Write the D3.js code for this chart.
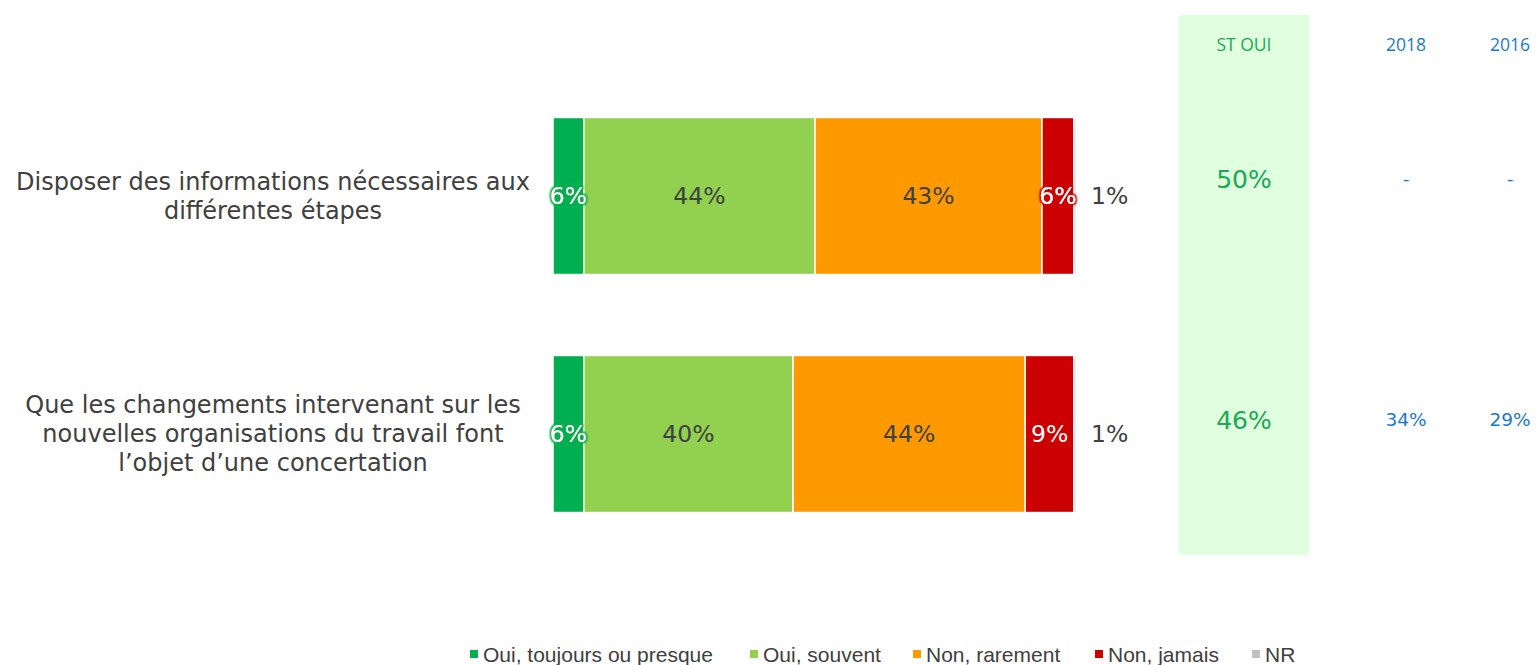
<!DOCTYPE html>
<html>
<head>
<meta charset="utf-8">
<script src="https://cdn.jsdelivr.net/npm/d3@7"></script>
<style>
  body { margin: 0; background: #fff; }
  svg text { font-family: "DejaVu Sans", Verdana, sans-serif; }
</style>
</head>
<body>
<svg id="chart"></svg>
<script>
// Categories and series (in %)
const categories = [
  "Disposer des informations nécessaires aux|différentes étapes",
  "Que les changements intervenant sur les|nouvelles organisations du travail font|l’objet d’une concertation"
];
const seriesNames = ["Oui, toujours ou presque", "Oui, souvent", "Non, rarement", "Non, jamais", "NR"];
const seriesColors = ["#00b050", "#92d050", "#ff9900", "#cc0000", "#c0c0c0"];
const ouiToujours = [5.9, 5.9];
const ouiSouvent = [44.2, 40.0];
const nonRarement = [43.4, 44.4];
const nonJamais = [6.1, 9.3];
const nr = [0.4, 0.4];
// printed labels
const labels = [
  ["6%", "44%", "43%", "6%", "1%"],
  ["6%", "40%", "44%", "9%", "1%"]
];
const stOui = ["50%", "46%"];
const col2018 = ["-", "34%"];
const col2016 = ["-", "29%"];

const W = 1537, H = 665;
const svg = d3.select("#chart").attr("width", W).attr("height", H);

const rows = categories.map(function(c, i) {
  return { cat: c, s0: ouiToujours[i], s1: ouiSouvent[i], s2: nonRarement[i], s3: nonJamais[i], s4: nr[i], idx: i };
});
const keys = ["s0", "s1", "s2", "s3", "s4"];
const stacked = d3.stack().keys(keys)(rows);

const x = d3.scaleLinear().domain([0, 100]).range([553, 1076]);
const y = d3.scaleBand().domain(d3.range(categories.length)).range([77, 553]).paddingInner(0.34).paddingOuter(0.17);

// ST OUI background
svg.append("rect")
  .attr("x", 1179).attr("y", 15).attr("width", 130).attr("height", 540)
  .attr("fill", "#dfffdf");

// glow filters for small labels
const defs = svg.append("defs");
[["glowGreen", "#00b050"], ["glowRed", "#cc0000"]].forEach(function(f) {
  const flt = defs.append("filter").attr("id", f[0]).attr("x", "-40%").attr("y", "-40%").attr("width", "180%").attr("height", "180%");
  flt.append("feMorphology").attr("in", "SourceAlpha").attr("operator", "dilate").attr("radius", 1.2).attr("result", "d");
  flt.append("feGaussianBlur").attr("in", "d").attr("stdDeviation", 1.2).attr("result", "b");
  flt.append("feFlood").attr("flood-color", f[1]).attr("result", "f");
  flt.append("feComposite").attr("in", "f").attr("in2", "b").attr("operator", "in").attr("result", "g");
  const m = flt.append("feMerge");
  m.append("feMergeNode").attr("in", "g");
  m.append("feMergeNode").attr("in", "g");
  m.append("feMergeNode").attr("in", "SourceGraphic");
});

// Bars
const layer = svg.selectAll("g.layer")
  .data(stacked)
  .enter()
  .append("g")
  .attr("class", "layer")
  .attr("fill", function(d, i) { return seriesColors[i]; });

layer.selectAll("rect")
  .data(function(d) { return d; })
  .enter()
  .append("rect")
  .attr("x", function(d) { return x(d[0]); })
  .attr("y", function(d) { return y(d.data.idx); })
  .attr("width", function(d) { return x(d[1]) - x(d[0]); })
  .attr("height", y.bandwidth())
  .attr("stroke", "#fff")
  .attr("stroke-width", 1.5);

// Segment labels
stacked.forEach(function(s, si) {
  s.forEach(function(d) {
    const i = d.data.idx;
    const cy = y(i) + y.bandwidth() / 2;
    let cx = (x(d[0]) + x(d[1])) / 2;
    let fill = "#404040";
    let filter = null;
    if (si === 0) { fill = "#fff"; filter = "url(#glowGreen)"; }
    if (si === 3) { fill = "#fff"; if (d[1] - d[0] < 8) filter = "url(#glowRed)"; }
    let anchor = "middle";
    if (si === 4) { cx = x(d[1]) + 15; anchor = "start"; }
    svg.append("text")
      .attr("x", cx).attr("y", cy)
      .attr("dy", "0.35em")
      .attr("text-anchor", anchor)
      .attr("font-size", 23.5)
      .attr("fill", fill)
      .attr("filter", filter)
      .text(labels[i][si]);
  });
});

// Category labels
categories.forEach(function(c, i) {
  const lines = c.split("|");
  const cy = y(i) + y.bandwidth() / 2;
  const lh = 29;
  const t = svg.append("text")
    .attr("text-anchor", "middle")
    .attr("font-size", 24)
    .attr("fill", "#404040");
  lines.forEach(function(l, k) {
    t.append("tspan")
      .attr("x", 273)
      .attr("y", cy - (lines.length - 1) * lh / 2 + k * lh)
      .attr("dy", "0.35em")
      .text(l);
  });
});

// Right-hand columns
const rowShift = [-17, -14];
const cols = [
  { title: "ST OUI", vals: stOui, x: 1244, color: "#1aaa55", size: 25 },
  { title: "2018", vals: col2018, x: 1406, color: "#1a7acc", size: 18.5 },
  { title: "2016", vals: col2016, x: 1510, color: "#1a7acc", size: 18.5 }
];
cols.forEach(function(c) {
  svg.append("text")
    .attr("x", c.x).attr("y", 45)
    .attr("dy", "0.35em")
    .attr("text-anchor", "middle")
    .attr("font-size", 17.5)
    .attr("fill", c.color)
    .style("font-family", "'Open Sans', sans-serif")
    .text(c.title);
  c.vals.forEach(function(v, i) {
    svg.append("text")
      .attr("x", c.x).attr("y", y(i) + y.bandwidth() / 2 + rowShift[i])
      .attr("dy", "0.35em")
      .attr("text-anchor", "middle")
      .attr("font-size", c.size)
      .attr("fill", c.color)
      .text(v);
  });
});

// Legend
const legendX = [470, 750, 913, 1095, 1252];
const legend = svg.append("g").attr("id", "legend");
seriesNames.forEach(function(n, i) {
  legend.append("rect")
    .attr("x", legendX[i]).attr("y", 650)
    .attr("width", 8).attr("height", 8)
    .attr("fill", seriesColors[i]);
  legend.append("text")
    .attr("x", legendX[i] + 13).attr("y", 655)
    .attr("dy", "0.35em")
    .attr("font-size", 21)
    .attr("fill", "#404040")
    .style("font-family", "'Liberation Sans Narrow', 'Liberation Sans', sans-serif")
    .text(n);
});
</script>
</body>
</html>
